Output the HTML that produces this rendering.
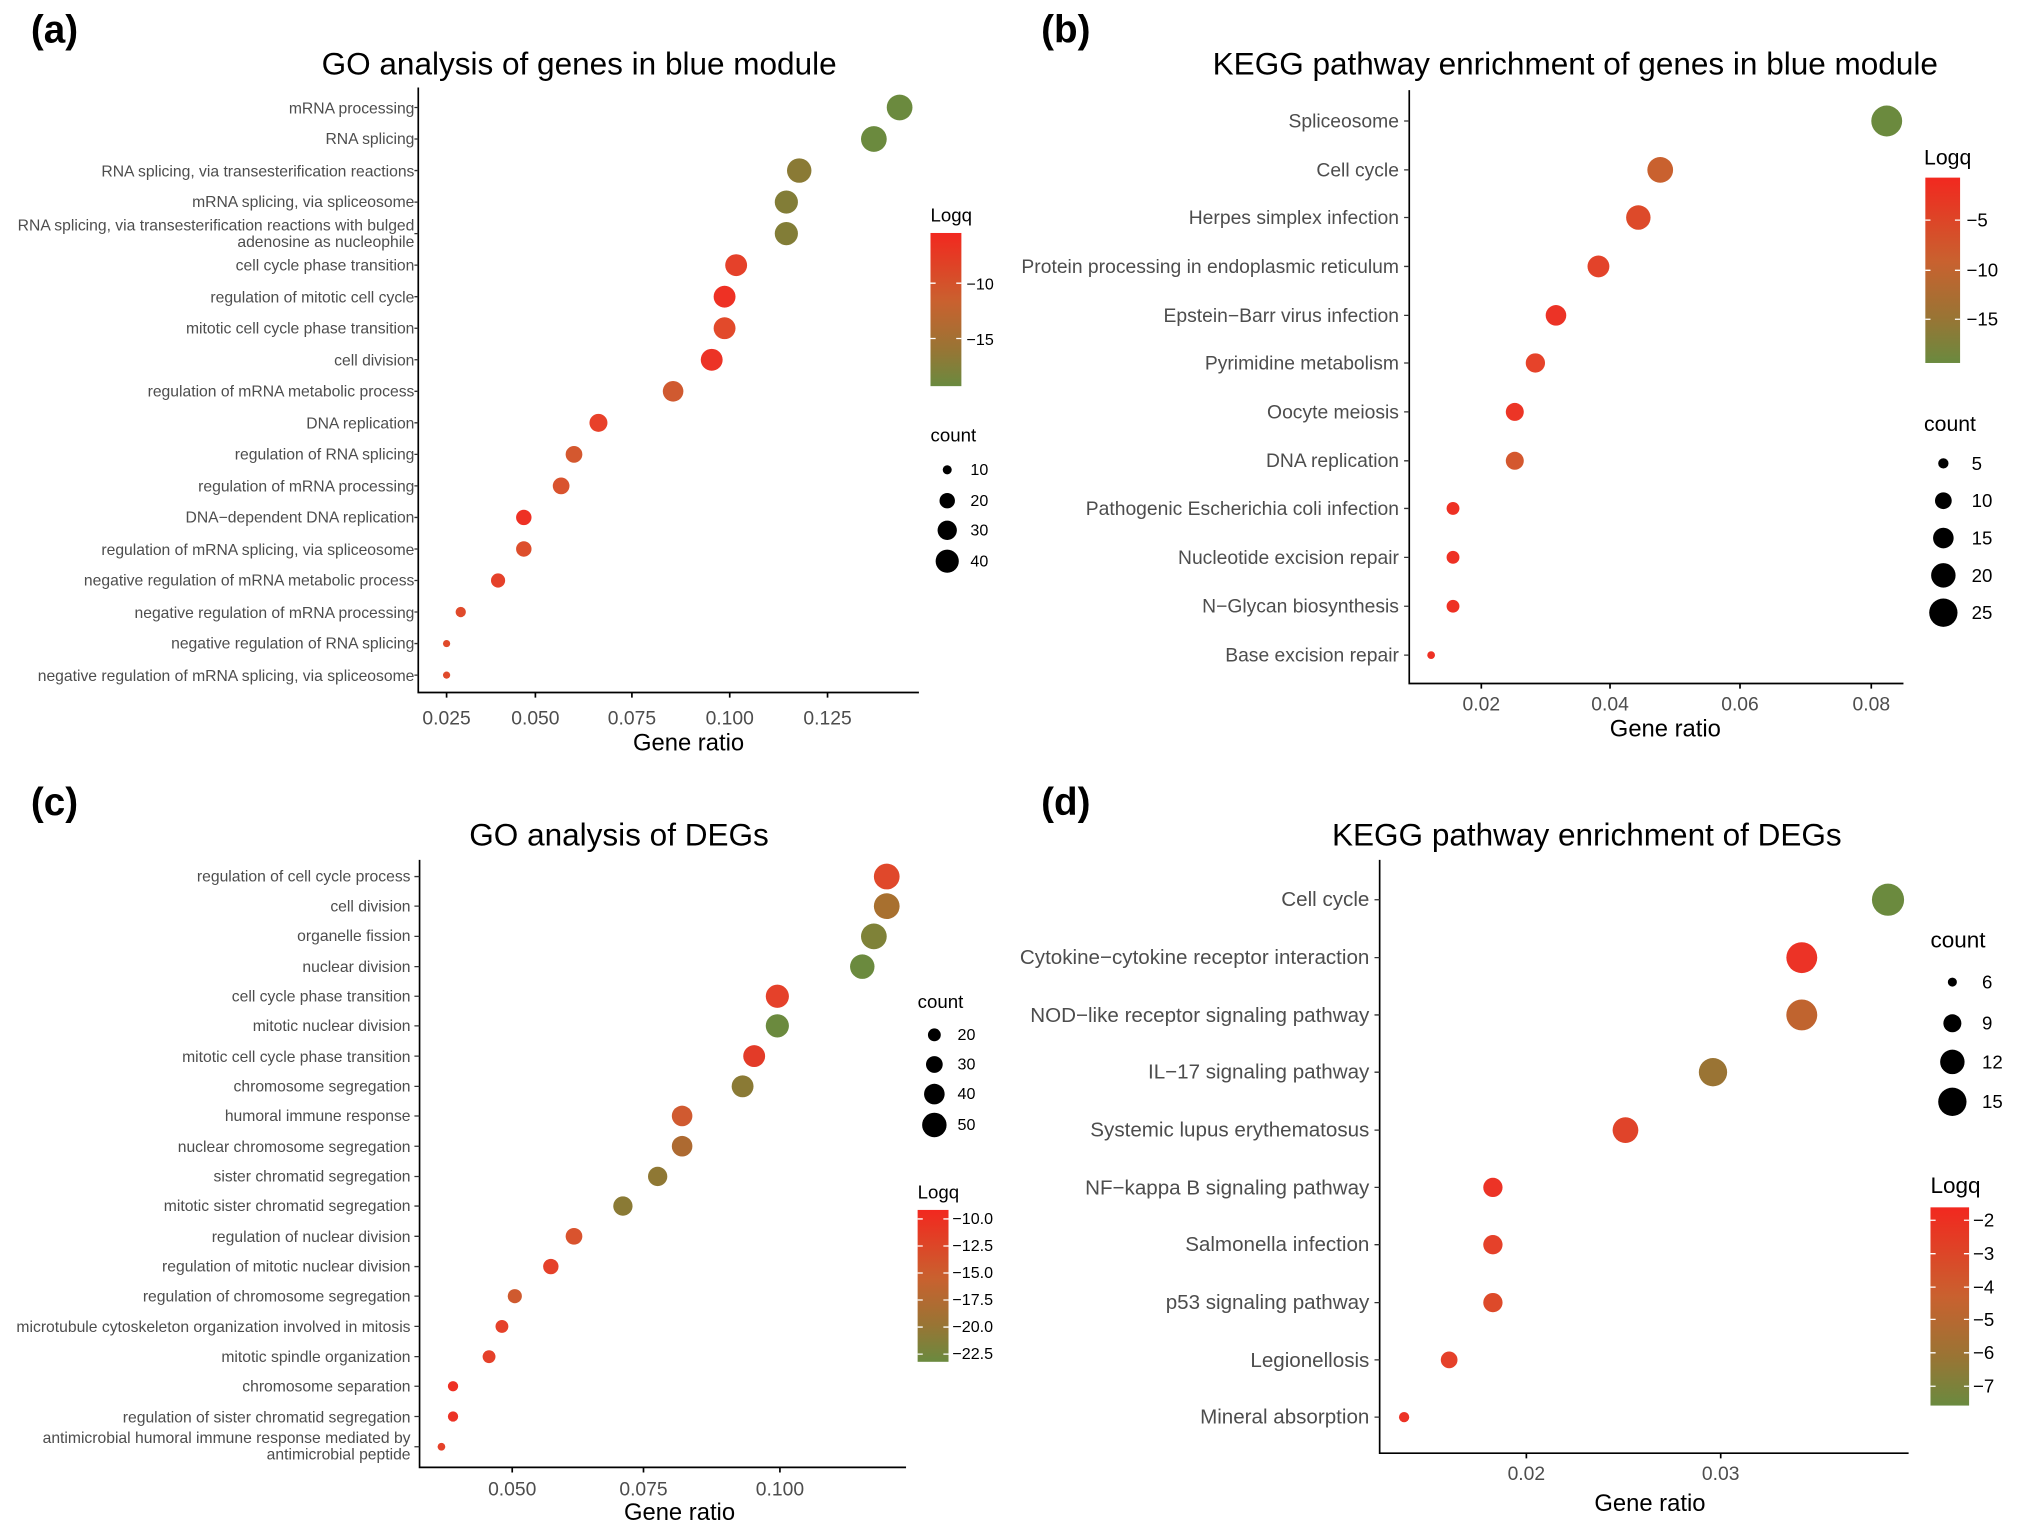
<!DOCTYPE html>
<html><head><meta charset="utf-8"><style>html,body{margin:0;padding:0;background:#fff}svg{display:block}text{font-family:"Liberation Sans",Arial,sans-serif}</style></head>
<body>
<svg width="2018" height="1533" viewBox="0 0 1568 1191" preserveAspectRatio="none" xmlns="http://www.w3.org/2000/svg">
<defs>
<linearGradient id="g" x1="0" y1="0" x2="0" y2="1">
<stop offset="0" stop-color="#f2281f"/><stop offset="0.45" stop-color="#c9612f"/><stop offset="0.75" stop-color="#9a7434"/><stop offset="1" stop-color="#6a8a3f"/>
</linearGradient>
</defs>
<rect width="1568" height="1191" fill="#fff"/>
<g font-weight="bold" font-size="30" fill="#000">
<text x="24" y="33">(a)</text><text x="809" y="33">(b)</text><text x="24" y="633">(c)</text><text x="809" y="633">(d)</text>
</g>
<g font-size="24.5" fill="#000" text-anchor="middle">
<text x="450" y="58">GO analysis of genes in blue module</text>
<text x="1224" y="58">KEGG pathway enrichment of genes in blue module</text>
<text x="481" y="657">GO analysis of DEGs</text>
<text x="1233" y="657">KEGG pathway enrichment of DEGs</text>
</g>

<!-- Panel A -->
<g stroke="#000" stroke-width="1.3" fill="none">
<path d="M325 68V538H714"/>
<path d="M347 538v4M416 538v4M491 538v4M567 538v4M643 538v4"/>
</g>
<g font-size="15" fill="#4d4d4d" text-anchor="middle">
<text x="347" y="563">0.025</text><text x="416" y="563">0.050</text><text x="491" y="563">0.075</text><text x="567" y="563">0.100</text><text x="643" y="563">0.125</text>
</g>
<text x="535" y="583" font-size="18.5" text-anchor="middle">Gene ratio</text>
<g font-size="12.2" fill="#4d4d4d" text-anchor="end">
<text x="322" y="88">mRNA processing</text>
<text x="322" y="112">RNA splicing</text>
<text x="322" y="137">RNA splicing, via transesterification reactions</text>
<text x="322" y="161">mRNA splicing, via spliceosome</text>
<text x="322" y="179">RNA splicing, via transesterification reactions with bulged</text>
<text x="322" y="192">adenosine as nucleophile</text>
<text x="322" y="210">cell cycle phase transition</text>
<text x="322" y="235">regulation of mitotic cell cycle</text>
<text x="322" y="259">mitotic cell cycle phase transition</text>
<text x="322" y="284">cell division</text>
<text x="322" y="308">regulation of mRNA metabolic process</text>
<text x="322" y="333">DNA replication</text>
<text x="322" y="357">regulation of RNA splicing</text>
<text x="322" y="382">regulation of mRNA processing</text>
<text x="322" y="406">DNA−dependent DNA replication</text>
<text x="322" y="431">regulation of mRNA splicing, via spliceosome</text>
<text x="322" y="455">negative regulation of mRNA metabolic process</text>
<text x="322" y="480">negative regulation of mRNA processing</text>
<text x="322" y="504">negative regulation of RNA splicing</text>
<text x="322" y="529">negative regulation of mRNA splicing, via spliceosome</text>
</g>
<g stroke="#333" stroke-width="1"><path d="M322 83.5h3M322 108h3M322 132.5h3M322 157h3M322 181.5h3M322 206h3M322 230.5h3M322 255h3M322 279.5h3M322 304h3M322 328.5h3M322 353h3M322 377.5h3M322 402h3M322 426.5h3M322 451h3M322 475.5h3M322 500h3M322 524.5h3"/></g>
<g>
<circle cx="699" cy="83.5" r="10" fill="#6b8a3e"/>
<circle cx="679" cy="108" r="10" fill="#6b8a3e"/>
<circle cx="621" cy="132.5" r="9.5" fill="#8a7a35"/>
<circle cx="611" cy="157" r="9" fill="#827d37"/>
<circle cx="611" cy="181.5" r="9" fill="#827d37"/>
<circle cx="572" cy="206" r="8.5" fill="#e5412a"/>
<circle cx="563" cy="230.5" r="8.5" fill="#ee3124"/>
<circle cx="563" cy="255" r="8.5" fill="#e24a2b"/>
<circle cx="553" cy="279.5" r="8.5" fill="#ec3326"/>
<circle cx="523" cy="304" r="8" fill="#d05a30"/>
<circle cx="465" cy="328.5" r="7" fill="#e8412a"/>
<circle cx="446" cy="353" r="6.5" fill="#d4582f"/>
<circle cx="436" cy="377.5" r="6.5" fill="#d9532e"/>
<circle cx="407" cy="402" r="6" fill="#ee3124"/>
<circle cx="407" cy="426.5" r="6" fill="#dd4e2c"/>
<circle cx="387" cy="451" r="5.5" fill="#e5412a"/>
<circle cx="358" cy="475.5" r="4" fill="#e04a2b"/>
<circle cx="347" cy="500" r="2.8" fill="#e04a2b"/>
<circle cx="347" cy="524.5" r="2.8" fill="#e04a2b"/>
</g>
<text x="723" y="172" font-size="14.5">Logq</text>
<rect x="723" y="181" width="24" height="119" fill="url(#g)"/>
<g stroke="#fff" stroke-width="1"><path d="M723 220h4M743 220h4M723 263h4M743 263h4"/></g>
<g font-size="12.5" fill="#000"><text x="751" y="225">−10</text><text x="751" y="268">−15</text></g>
<text x="723" y="343" font-size="14.5">count</text>
<g fill="#000"><circle cx="736" cy="365" r="3.5"/><circle cx="736" cy="389" r="6"/><circle cx="736" cy="412" r="7.5"/><circle cx="736" cy="436" r="9"/></g>
<g font-size="12.5"><text x="754" y="369">10</text><text x="754" y="393">20</text><text x="754" y="416">30</text><text x="754" y="440">40</text></g>

<!-- Panel B -->
<g stroke="#000" stroke-width="1.3" fill="none">
<path d="M1095 70V531H1479"/>
<path d="M1151 531v4M1251 531v4M1352 531v4M1454 531v4"/>
</g>
<g font-size="15" fill="#4d4d4d" text-anchor="middle">
<text x="1151" y="552">0.02</text><text x="1251" y="552">0.04</text><text x="1352" y="552">0.06</text><text x="1454" y="552">0.08</text>
</g>
<text x="1294" y="572" font-size="18.5" text-anchor="middle">Gene ratio</text>
<g font-size="15" fill="#4d4d4d" text-anchor="end">
<text x="1087" y="99">Spliceosome</text>
<text x="1087" y="137">Cell cycle</text>
<text x="1087" y="174">Herpes simplex infection</text>
<text x="1087" y="212">Protein processing in endoplasmic reticulum</text>
<text x="1087" y="250">Epstein−Barr virus infection</text>
<text x="1087" y="287">Pyrimidine metabolism</text>
<text x="1087" y="325">Oocyte meiosis</text>
<text x="1087" y="363">DNA replication</text>
<text x="1087" y="400">Pathogenic Escherichia coli infection</text>
<text x="1087" y="438">Nucleotide excision repair</text>
<text x="1087" y="476">N−Glycan biosynthesis</text>
<text x="1087" y="514">Base excision repair</text>
</g>
<g stroke="#333" stroke-width="1"><path d="M1091 94h4M1091 132h4M1091 169h4M1091 207h4M1091 245h4M1091 282h4M1091 320h4M1091 358h4M1091 395h4M1091 433h4M1091 471h4M1091 509h4"/></g>
<g>
<circle cx="1466" cy="94" r="12" fill="#6b8a3e"/>
<circle cx="1290" cy="132" r="10" fill="#c9612f"/>
<circle cx="1273" cy="169" r="9.5" fill="#dd4a2a"/>
<circle cx="1242" cy="207" r="8.5" fill="#e3432a"/>
<circle cx="1209" cy="245" r="8" fill="#ec3326"/>
<circle cx="1193" cy="282" r="7.5" fill="#e6432a"/>
<circle cx="1177" cy="320" r="7" fill="#ec3526"/>
<circle cx="1177" cy="358" r="7" fill="#d4582f"/>
<circle cx="1129" cy="395" r="5" fill="#ee3124"/>
<circle cx="1129" cy="433" r="5" fill="#ee3124"/>
<circle cx="1129" cy="471" r="5" fill="#ee3124"/>
<circle cx="1112" cy="509" r="3" fill="#ee3124"/>
</g>
<text x="1495" y="128" font-size="16.5">Logq</text>
<rect x="1496" y="138" width="27" height="144" fill="url(#g)"/>
<g stroke="#fff" stroke-width="1"><path d="M1496 171h4M1519 171h4M1496 210h4M1519 210h4M1496 248h4M1519 248h4"/></g>
<g font-size="14.5"><text x="1528" y="176">−5</text><text x="1528" y="215">−10</text><text x="1528" y="253">−15</text></g>
<text x="1495" y="335" font-size="16.5">count</text>
<g fill="#000"><circle cx="1510" cy="360" r="4"/><circle cx="1510" cy="389" r="6.5"/><circle cx="1510" cy="418" r="8"/><circle cx="1510" cy="447" r="9.5"/><circle cx="1510" cy="476" r="11"/></g>
<g font-size="14.5"><text x="1532" y="365">5</text><text x="1532" y="394">10</text><text x="1532" y="423">15</text><text x="1532" y="452">20</text><text x="1532" y="481">25</text></g>

<!-- Panel C -->
<g stroke="#000" stroke-width="1.3" fill="none">
<path d="M326 668V1140H704"/>
<path d="M398 1140v4M500 1140v4M606 1140v4"/>
</g>
<g font-size="15" fill="#4d4d4d" text-anchor="middle">
<text x="398" y="1162">0.050</text><text x="500" y="1162">0.075</text><text x="606" y="1162">0.100</text>
</g>
<text x="528" y="1181" font-size="18.5" text-anchor="middle">Gene ratio</text>
<g font-size="12.2" fill="#4d4d4d" text-anchor="end">
<text x="319" y="685">regulation of cell cycle process</text>
<text x="319" y="708">cell division</text>
<text x="319" y="731">organelle fission</text>
<text x="319" y="755">nuclear division</text>
<text x="319" y="778">cell cycle phase transition</text>
<text x="319" y="801">mitotic nuclear division</text>
<text x="319" y="825">mitotic cell cycle phase transition</text>
<text x="319" y="848">chromosome segregation</text>
<text x="319" y="871">humoral immune response</text>
<text x="319" y="895">nuclear chromosome segregation</text>
<text x="319" y="918">sister chromatid segregation</text>
<text x="319" y="941">mitotic sister chromatid segregation</text>
<text x="319" y="965">regulation of nuclear division</text>
<text x="319" y="988">regulation of mitotic nuclear division</text>
<text x="319" y="1011">regulation of chromosome segregation</text>
<text x="319" y="1035">microtubule cytoskeleton organization involved in mitosis</text>
<text x="319" y="1058">mitotic spindle organization</text>
<text x="319" y="1081">chromosome separation</text>
<text x="319" y="1105">regulation of sister chromatid segregation</text>
<text x="319" y="1121">antimicrobial humoral immune response mediated by</text>
<text x="319" y="1134">antimicrobial peptide</text>
</g>
<g stroke="#333" stroke-width="1"><path d="M322 681h4M322 704h4M322 727.5h4M322 751h4M322 774h4M322 797h4M322 820.5h4M322 844h4M322 867h4M322 890.5h4M322 914h4M322 937h4M322 960.5h4M322 984h4M322 1007h4M322 1030.5h4M322 1054h4M322 1077h4M322 1100.5h4M322 1124h4"/></g>
<g>
<circle cx="689" cy="681" r="10" fill="#e0482b"/>
<circle cx="689" cy="704" r="10" fill="#a8702f"/>
<circle cx="679" cy="727.5" r="10" fill="#7f8238"/>
<circle cx="670" cy="751" r="9.5" fill="#6b8a3e"/>
<circle cx="604" cy="774" r="9" fill="#e5412a"/>
<circle cx="604" cy="797" r="9" fill="#6b8a3e"/>
<circle cx="586" cy="820.5" r="8.5" fill="#e33b28"/>
<circle cx="577" cy="844" r="8.5" fill="#8a7a35"/>
<circle cx="530" cy="867" r="8" fill="#d05a30"/>
<circle cx="530" cy="890.5" r="8" fill="#ad6a31"/>
<circle cx="511" cy="914" r="7.5" fill="#8f7834"/>
<circle cx="484" cy="937" r="7.5" fill="#8a7a35"/>
<circle cx="446" cy="960.5" r="6.5" fill="#d9532e"/>
<circle cx="428" cy="984" r="6" fill="#e5412a"/>
<circle cx="400" cy="1007" r="5.5" fill="#cf5a2f"/>
<circle cx="390" cy="1030.5" r="5" fill="#e5412a"/>
<circle cx="380" cy="1054" r="5" fill="#e5412a"/>
<circle cx="352" cy="1077" r="4" fill="#ee3124"/>
<circle cx="352" cy="1100.5" r="4" fill="#ec3326"/>
<circle cx="343" cy="1124" r="3" fill="#e5412a"/>
</g>
<text x="713" y="783" font-size="14.5">count</text>
<g fill="#000"><circle cx="726" cy="804" r="5"/><circle cx="726" cy="827" r="6.5"/><circle cx="726" cy="850" r="8"/><circle cx="726" cy="874" r="9.5"/></g>
<g font-size="12.5"><text x="744" y="808">20</text><text x="744" y="831">30</text><text x="744" y="854">40</text><text x="744" y="878">50</text></g>
<text x="713" y="931" font-size="14.5">Logq</text>
<rect x="713" y="940" width="24" height="118" fill="url(#g)"/>
<g stroke="#fff" stroke-width="1"><path d="M713 947h4M733 947h4M713 968h4M733 968h4M713 989h4M733 989h4M713 1010h4M733 1010h4M713 1031h4M733 1031h4M713 1052h4M733 1052h4"/></g>
<g font-size="12.5"><text x="740" y="951">−10.0</text><text x="740" y="972">−12.5</text><text x="740" y="993">−15.0</text><text x="740" y="1014">−17.5</text><text x="740" y="1035">−20.0</text><text x="740" y="1056">−22.5</text></g>

<!-- Panel D -->
<g stroke="#000" stroke-width="1.3" fill="none">
<path d="M1072 668V1129H1483"/>
<path d="M1186 1129v4M1337 1129v4"/>
</g>
<g font-size="15" fill="#4d4d4d" text-anchor="middle">
<text x="1186" y="1150">0.02</text><text x="1337" y="1150">0.03</text>
</g>
<text x="1282" y="1174" font-size="18.5" text-anchor="middle">Gene ratio</text>
<g font-size="16" fill="#4d4d4d" text-anchor="end">
<text x="1064" y="704">Cell cycle</text>
<text x="1064" y="749">Cytokine−cytokine receptor interaction</text>
<text x="1064" y="794">NOD−like receptor signaling pathway</text>
<text x="1064" y="838">IL−17 signaling pathway</text>
<text x="1064" y="883">Systemic lupus erythematosus</text>
<text x="1064" y="928">NF−kappa B signaling pathway</text>
<text x="1064" y="972">Salmonella infection</text>
<text x="1064" y="1017">p53 signaling pathway</text>
<text x="1064" y="1062">Legionellosis</text>
<text x="1064" y="1106">Mineral absorption</text>
</g>
<g stroke="#333" stroke-width="1"><path d="M1068 699h4M1068 744h4M1068 788.5h4M1068 833h4M1068 878h4M1068 922.5h4M1068 967h4M1068 1012h4M1068 1056.5h4M1068 1101h4"/></g>
<g>
<circle cx="1467" cy="699" r="12.5" fill="#6b8a3e"/>
<circle cx="1400" cy="744" r="12" fill="#ec3326"/>
<circle cx="1400" cy="788.5" r="12" fill="#c0642f"/>
<circle cx="1331" cy="833" r="11" fill="#9a7434"/>
<circle cx="1263" cy="878" r="10" fill="#e0442a"/>
<circle cx="1160" cy="922.5" r="7.5" fill="#ec3326"/>
<circle cx="1160" cy="967" r="7.5" fill="#e5412a"/>
<circle cx="1160" cy="1012" r="7.5" fill="#dd4a2a"/>
<circle cx="1126" cy="1056.5" r="6.5" fill="#e5412a"/>
<circle cx="1091" cy="1101" r="4" fill="#ec3326"/>
</g>
<text x="1500" y="736" font-size="17.5">count</text>
<g fill="#000"><circle cx="1517" cy="763" r="3.5"/><circle cx="1517" cy="795" r="7"/><circle cx="1517" cy="825" r="9.5"/><circle cx="1517" cy="856" r="11"/></g>
<g font-size="14.5"><text x="1540" y="768">6</text><text x="1540" y="800">9</text><text x="1540" y="830">12</text><text x="1540" y="861">15</text></g>
<text x="1500" y="927" font-size="17.5">Logq</text>
<rect x="1500" y="938" width="30" height="154" fill="url(#g)"/>
<g stroke="#fff" stroke-width="1"><path d="M1500 948h4M1526 948h4M1500 974h4M1526 974h4M1500 1000h4M1526 1000h4M1500 1025h4M1526 1025h4M1500 1051h4M1526 1051h4M1500 1077h4M1526 1077h4"/></g>
<g font-size="14.5"><text x="1533" y="953">−2</text><text x="1533" y="979">−3</text><text x="1533" y="1005">−4</text><text x="1533" y="1030">−5</text><text x="1533" y="1056">−6</text><text x="1533" y="1082">−7</text></g>
</svg>
</body></html>
